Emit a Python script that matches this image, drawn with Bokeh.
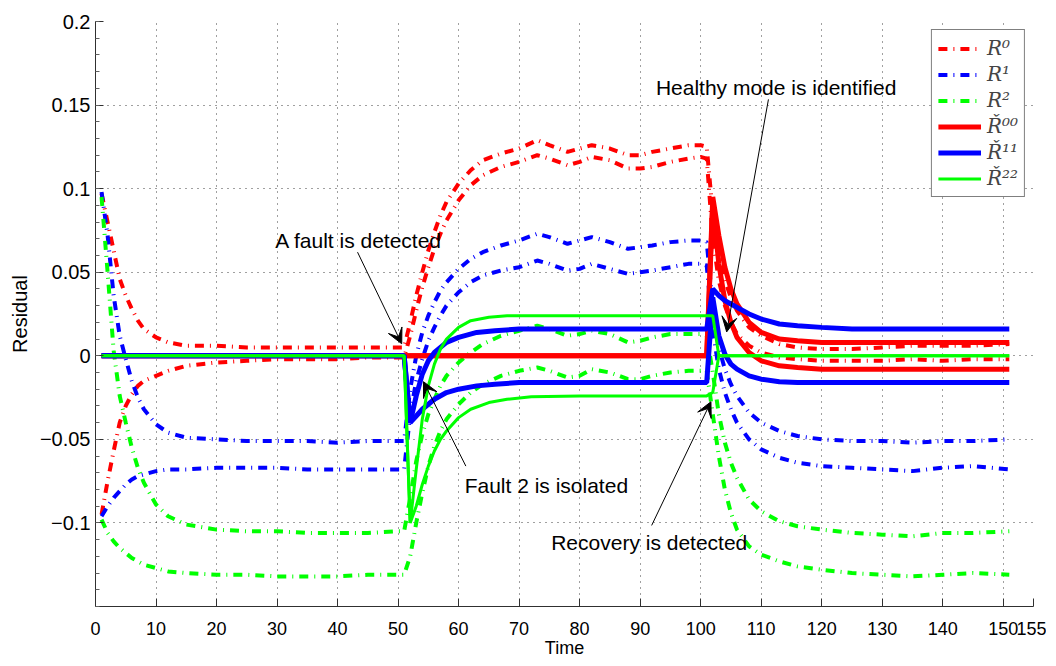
from bokeh.plotting import figure
from bokeh.models import Range1d, FixedTicker, Legend, LegendItem, Arrow, VeeHead, Label
from bokeh.embed import file_html
from bokeh.resources import INLINE

# ---------------- data ----------------
X_TICKS = [0, 10, 20, 30, 40, 50, 60, 70, 80, 90, 100, 110, 120, 130, 140, 150, 155]
Y_TICKS = [-0.1, -0.05, 0, 0.05, 0.1, 0.15, 0.2]
Y_LABELS = ["\u22120.1", "\u22120.05", "0", "0.05", "0.1", "0.15", "0.2"]

# time grid for the threshold (dash-dot) pairs
T_DD = [1, 2, 3, 4, 5, 6, 7, 8, 10, 12, 15, 20, 25, 30, 35, 40, 45, 50,
        51, 52, 53, 54, 55, 56, 57, 58, 60, 62, 64, 67, 70, 73, 75, 78, 80, 82, 85, 88, 90, 92, 95, 98, 100,
        101, 102, 103, 104, 105, 106, 108, 110, 113, 116, 120, 125, 130, 135, 140, 145, 151]

R0_HI = [0.097, 0.080, 0.063, 0.046, 0.036, 0.028, 0.021, 0.016, 0.011, 0.008, 0.006, 0.006, 0.005, 0.005, 0.005, 0.005, 0.005, 0.005,
         0.005, 0.020, 0.036, 0.050, 0.063, 0.074, 0.084, 0.092, 0.103, 0.111, 0.117, 0.121, 0.124, 0.129, 0.126, 0.122, 0.124, 0.126, 0.124, 0.120, 0.120, 0.122, 0.124, 0.126, 0.126,
         0.125, 0.085, 0.060, 0.045, 0.035, 0.027, 0.017, 0.012, 0.007, 0.005, 0.004, 0.004, 0.005, 0.006, 0.006, 0.006, 0.007]
R0_LO = [-0.095, -0.075, -0.057, -0.040, -0.030, -0.023, -0.018, -0.015, -0.012, -0.009, -0.006, -0.004, -0.003, -0.002, -0.002, -0.002, -0.001, -0.001,
         -0.001, 0.012, 0.027, 0.041, 0.053, 0.064, 0.073, 0.081, 0.093, 0.102, 0.108, 0.113, 0.116, 0.120, 0.118, 0.114, 0.116, 0.119, 0.117, 0.112, 0.112, 0.113, 0.116, 0.118, 0.119,
         0.118, 0.070, 0.045, 0.030, 0.020, 0.013, 0.006, 0.002, -0.001, -0.002, -0.003, -0.003, -0.003, -0.002, -0.003, -0.002, -0.002]
R1_HI = [0.098, 0.072, 0.036, 0.012, -0.002, -0.015, -0.025, -0.032, -0.041, -0.046, -0.049, -0.050, -0.051, -0.051, -0.051, -0.052, -0.051, -0.051,
         -0.051, -0.020, 0.000, 0.014, 0.024, 0.032, 0.039, 0.044, 0.052, 0.058, 0.062, 0.066, 0.069, 0.073, 0.071, 0.067, 0.069, 0.071, 0.068, 0.064, 0.065, 0.066, 0.068, 0.069, 0.069,
         0.068, 0.030, 0.005, -0.008, -0.017, -0.024, -0.034, -0.040, -0.045, -0.048, -0.050, -0.051, -0.051, -0.052, -0.051, -0.051, -0.050]
R1_LO = [-0.096, -0.090, -0.085, -0.081, -0.077, -0.074, -0.072, -0.071, -0.069, -0.068, -0.068, -0.067, -0.067, -0.067, -0.068, -0.068, -0.068, -0.068,
         -0.068, -0.035, -0.015, -0.002, 0.009, 0.017, 0.024, 0.030, 0.038, 0.044, 0.048, 0.051, 0.053, 0.057, 0.055, 0.051, 0.052, 0.055, 0.052, 0.049, 0.050, 0.051, 0.053, 0.055, 0.055,
         0.054, 0.015, -0.008, -0.022, -0.032, -0.040, -0.050, -0.056, -0.061, -0.064, -0.066, -0.067, -0.068, -0.069, -0.067, -0.066, -0.068]
R2_HI = [0.095, 0.050, 0.003, -0.024, -0.040, -0.055, -0.067, -0.076, -0.089, -0.096, -0.101, -0.104, -0.105, -0.105, -0.106, -0.106, -0.106, -0.105,
         -0.105, -0.085, -0.063, -0.047, -0.035, -0.026, -0.018, -0.012, -0.004, 0.002, 0.007, 0.012, 0.015, 0.018, 0.016, 0.012, 0.013, 0.015, 0.013, 0.008, 0.009, 0.011, 0.013, 0.013, 0.013,
         0.012, -0.010, -0.035, -0.052, -0.064, -0.073, -0.086, -0.093, -0.099, -0.102, -0.104, -0.106, -0.107, -0.108, -0.106, -0.106, -0.105]
R2_LO = [-0.098, -0.106, -0.111, -0.115, -0.118, -0.121, -0.123, -0.125, -0.127, -0.129, -0.130, -0.131, -0.131, -0.132, -0.132, -0.132, -0.131, -0.131,
         -0.131, -0.120, -0.100, -0.082, -0.066, -0.054, -0.045, -0.038, -0.029, -0.022, -0.017, -0.012, -0.009, -0.007, -0.009, -0.013, -0.012, -0.008, -0.010, -0.014, -0.014, -0.012, -0.010, -0.009, -0.009,
         -0.009, -0.035, -0.060, -0.080, -0.094, -0.104, -0.114, -0.119, -0.123, -0.126, -0.128, -0.130, -0.131, -0.132, -0.131, -0.130, -0.131]

# residuals (solid)
T_S0 = [1, 101, 102, 103, 104, 105, 106, 108, 110, 113, 116, 120, 125, 130, 151]
R00_HI = [0, 0, 0.095, 0.072, 0.053, 0.040, 0.031, 0.020, 0.014, 0.010, 0.009, 0.008, 0.008, 0.008, 0.008]
R00_LO = [0, 0, 0.090, 0.055, 0.033, 0.020, 0.011, 0.002, -0.003, -0.006, -0.007, -0.008, -0.008, -0.008, -0.008]

T_S1 = [1, 51, 52, 53, 54, 55, 56, 58, 60, 63, 66, 70, 75, 101, 102, 103, 104, 105, 106, 108, 110, 113, 116, 120, 125, 151]
R11_HI = [0, 0, -0.040, -0.024, -0.011, -0.003, 0.002, 0.008, 0.011, 0.014, 0.015, 0.016, 0.016, 0.016, 0.040, 0.036, 0.033, 0.031, 0.029, 0.025, 0.022, 0.019, 0.018, 0.017, 0.016, 0.016]
R11_LO = [0, 0, -0.040, -0.036, -0.032, -0.029, -0.026, -0.022, -0.020, -0.018, -0.017, -0.016, -0.016, -0.016, 0.035, 0.012, 0.001, -0.005, -0.008, -0.012, -0.014, -0.0155, -0.016, -0.016, -0.016, -0.016]

T_S2 = [1, 51, 52, 53, 54, 55, 56, 57, 58, 60, 62, 65, 68, 72, 80, 101, 102, 103, 151]
R22_HI = [0, 0, -0.100, -0.068, -0.038, -0.018, -0.005, 0.004, 0.010, 0.017, 0.021, 0.023, 0.024, 0.024, 0.024, 0.024, 0.024, 0, 0]
R22_LO = [0, 0, -0.100, -0.090, -0.077, -0.066, -0.057, -0.050, -0.045, -0.037, -0.032, -0.028, -0.026, -0.0245, -0.024, -0.024, -0.022, 0, 0]

LEGEND_LABELS = ["R\u2070", "R\u00b9", "R\u00b2", "\u0158\u2070\u2070", "\u0158\u00b9\u00b9", "\u0158\u00b2\u00b2"]

X_TITLE = "Time"
Y_TITLE = "Residual"

# annotations: (text, text x, text y, align, arrow start x, y, arrow end x, y)
NOTES = [
    ("A fault is detected", 43.5, 0.0690, "center", 43.3, 0.062, 50.6, 0.0072),
    ("Fault 2 is isolated", 61.0, -0.0776, "left", 61.2, -0.0660, 54.2, -0.0155),
    ("Recovery is detected", 75.3, -0.1116, "left", 91.9, -0.1015, 101.7, -0.0275),
    ("Healthy mode is identified", 92.6, 0.1606, "left", 111.2, 0.1534, 104.3, 0.0143),
]

RED, BLUE, GREEN = "#ff0000", "#0000ff", "#00ff00"
DD = "9 6 1 6"
FONT = "Liberation Sans"

# ---------------- figure ----------------
p = figure(frame_width=938, frame_height=585, output_backend="svg", toolbar_location=None,
           x_range=Range1d(0, 155), y_range=Range1d(-0.15, 0.2),
           min_border_left=95, min_border_right=13, min_border_top=21, min_border_bottom=56)
p.outline_line_color = None
p.background_fill_color = "white"

p.xaxis.ticker = FixedTicker(ticks=X_TICKS)
minor = [round(-0.15 + 0.01 * i, 3) for i in range(36)]
p.yaxis.ticker = FixedTicker(ticks=Y_TICKS, minor_ticks=minor)
p.yaxis.major_label_overrides = {v: s for v, s in zip(Y_TICKS, Y_LABELS)}

for ax in (p.xaxis[0], p.yaxis[0]):
    ax.axis_line_color = "#303030"
    ax.major_tick_line_color = "#303030"
    ax.minor_tick_line_color = "#606060"
    ax.major_tick_in = 8
    ax.major_tick_out = 0
    ax.minor_tick_in = 4
    ax.minor_tick_out = 0
    ax.major_label_text_color = "black"
    ax.axis_label_text_color = "black"
    ax.axis_label_text_font_style = "normal"

p.xaxis.minor_tick_line_color = None
p.xaxis.major_label_text_font = FONT
p.xaxis.major_label_text_font_size = "18px"
p.xaxis.major_label_standoff = 15
p.xaxis.axis_label = X_TITLE
p.xaxis.axis_label_text_font = FONT
p.xaxis.axis_label_text_font_size = "18px"
p.xaxis.axis_label_standoff = 0

p.yaxis.major_label_text_font = FONT
p.yaxis.major_label_text_font_size = "20px"
p.yaxis.major_label_standoff = 5
p.yaxis.axis_label = Y_TITLE
p.yaxis.axis_label_text_font = FONT
p.yaxis.axis_label_text_font_size = "20px"
p.yaxis.axis_label_standoff = 6

for g in (p.xgrid[0], p.ygrid[0]):
    g.grid_line_color = "black"
    g.grid_line_alpha = 0.75
    g.grid_line_dash = "1 5"
    g.grid_line_width = 1

# threshold pairs (dash-dot)
r0a = p.line(T_DD, R0_HI, line_color=RED, line_width=4, line_dash=DD)
p.line(T_DD, R0_LO, line_color=RED, line_width=4, line_dash=DD)
r1a = p.line(T_DD, R1_HI, line_color=BLUE, line_width=4, line_dash=DD)
p.line(T_DD, R1_LO, line_color=BLUE, line_width=4, line_dash=DD)
r2a = p.line(T_DD, R2_HI, line_color=GREEN, line_width=4, line_dash=DD)
p.line(T_DD, R2_LO, line_color=GREEN, line_width=4, line_dash=DD)

# residuals (solid)
s0a = p.line(T_S0, R00_HI, line_color=RED, line_width=5)
p.line(T_S0, R00_LO, line_color=RED, line_width=5)
s1a = p.line(T_S1, R11_HI, line_color=BLUE, line_width=5)
p.line(T_S1, R11_LO, line_color=BLUE, line_width=5)
s2a = p.line(T_S2, R22_HI, line_color=GREEN, line_width=3)
p.line(T_S2, R22_LO, line_color=GREEN, line_width=3)

items = [LegendItem(label=lab, renderers=[r]) for lab, r in
         zip(LEGEND_LABELS, [r0a, r1a, r2a, s0a, s1a, s2a])]
legend = Legend(items=items, location="top_right")
legend.border_line_color = "black"
legend.border_line_width = 1.5
legend.background_fill_color = "white"
legend.background_fill_alpha = 1
legend.label_text_font = "DejaVu Serif"
legend.label_text_font_style = "italic"
legend.label_text_font_size = "20px"
legend.label_height = 21
legend.glyph_height = 21
legend.glyph_width = 43
legend.label_standoff = 6
legend.spacing = 2
legend.padding = 6
legend.margin = 8
p.add_layout(legend)

for text, tx, ty, align, xs, ys, xe, ye in NOTES:
    p.add_layout(Arrow(end=VeeHead(size=15, fill_color="black", line_color="black"),
                       x_start=xs, y_start=ys, x_end=xe, y_end=ye,
                       line_color="black", line_width=1))
    p.add_layout(Label(x=tx, y=ty, text=text, text_align=align, text_baseline="middle",
                       text_font=FONT, text_font_size="21px", text_color="black"))

open("out.html", "w").write(file_html(p, INLINE))
